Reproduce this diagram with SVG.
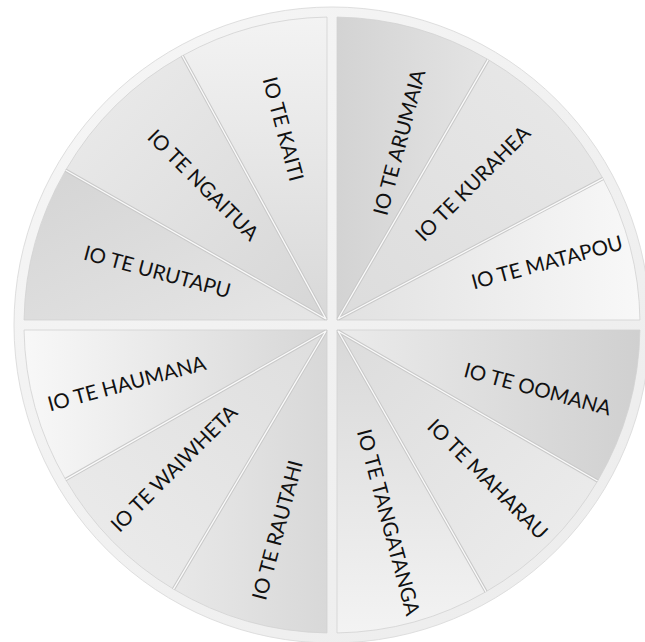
<svg xmlns="http://www.w3.org/2000/svg" width="645" height="642" viewBox="0 0 645 642">
<style>
.sec{stroke:#d2d2d2;stroke-width:0.8}
.lbl{font-family:Lato,"Liberation Sans",sans-serif;font-size:20.5px;fill:#111;text-anchor:middle}
.div1{stroke:#c9c9c9;stroke-width:3.4;fill:none}
.div2{stroke:#fafafa;stroke-width:1.3;fill:none}
</style>
<defs>
<linearGradient id="ring" x1="0" y1="0" x2="1" y2="1"><stop offset="0" stop-color="#f6f6f6"/><stop offset="1" stop-color="#ececec"/></linearGradient>
<linearGradient id="gKaiti" x1="0" y1="0" x2="0" y2="1"><stop offset="0" stop-color="#f3f3f3"/><stop offset="1" stop-color="#d8d8d8"/></linearGradient>
<linearGradient id="gNgaitua" x1="0" y1="0" x2="1" y2="1"><stop offset="0" stop-color="#ececec"/><stop offset="1" stop-color="#d6d6d6"/></linearGradient>
<linearGradient id="gUrutapu" x1="0" y1="0" x2="1" y2="1"><stop offset="0" stop-color="#d4d4d4"/><stop offset="1" stop-color="#e6e6e6"/></linearGradient>
<linearGradient id="gArumaia" x1="0" y1="0" x2="1" y2="0"><stop offset="0" stop-color="#d3d3d3"/><stop offset="1" stop-color="#e4e4e4"/></linearGradient>
<linearGradient id="gKurahea" x1="1" y1="0" x2="0" y2="1"><stop offset="0" stop-color="#e9e9e9"/><stop offset="1" stop-color="#dcdcdc"/></linearGradient>
<linearGradient id="gMatapou" x1="0" y1="0" x2="1" y2="0"><stop offset="0" stop-color="#e1e1e1"/><stop offset="1" stop-color="#f8f8f8"/></linearGradient>
<linearGradient id="gOomana" x1="0" y1="0" x2="1" y2="0"><stop offset="0" stop-color="#ebebeb"/><stop offset="1" stop-color="#d0d0d0"/></linearGradient>
<linearGradient id="gMaharau" x1="0" y1="0" x2="1" y2="1"><stop offset="0" stop-color="#dcdcdc"/><stop offset="1" stop-color="#eeeeee"/></linearGradient>
<linearGradient id="gTangatanga" x1="0" y1="0" x2="0" y2="1"><stop offset="0" stop-color="#d8d8d8"/><stop offset="1" stop-color="#f3f3f3"/></linearGradient>
<linearGradient id="gHaumana" x1="0" y1="0" x2="1" y2="0"><stop offset="0" stop-color="#f8f8f8"/><stop offset="1" stop-color="#d6d6d6"/></linearGradient>
<linearGradient id="gWaiwheta" x1="1" y1="0" x2="0" y2="1"><stop offset="0" stop-color="#dedede"/><stop offset="1" stop-color="#ececec"/></linearGradient>
<linearGradient id="gRautahi" x1="0" y1="0" x2="1" y2="0"><stop offset="0" stop-color="#e8e8e8"/><stop offset="1" stop-color="#d8d8d8"/></linearGradient>
</defs>
<rect width="645" height="642" fill="#ffffff"/>
<circle id="ring-bg" cx="332" cy="325" r="318" fill="url(#ring)" stroke="#dedede" stroke-width="1"/>

<g id="kaiti">
<path class="sec" fill="url(#gKaiti)" d="M327,320 L327,17.04 A308,308 0 0 0 182.3,55.8 Z"/>
<text class="lbl" transform="translate(283.3,129) rotate(75)" y="7.3">IO TE KAITI</text>
</g>
<g id="ngaitua">
<path class="sec" fill="url(#gNgaitua)" d="M327,320 L182.3,55.8 A308,308 0 0 0 65.7,170.2 Z"/>
<text class="lbl" transform="translate(203.3,185) rotate(45)" y="7.3">IO TE NGAITUA</text>
</g>
<g id="urutapu">
<path class="sec" fill="url(#gUrutapu)" d="M327,320 L65.7,170.2 A308,308 0 0 0 24.04,320 Z"/>
<text class="lbl" transform="translate(157.3,271.7) rotate(15)" y="7.3">IO TE URUTAPU</text>
</g>

<g id="arumaia">
<path class="sec" fill="url(#gArumaia)" d="M337,320 L337,17.04 A308,308 0 0 1 488.2,59.6 Z"/>
<text class="lbl" transform="translate(399.3,142.3) rotate(-75)" y="7.3">IO TE ARUMAIA</text>
</g>
<g id="kurahea">
<path class="sec" fill="url(#gKurahea)" d="M337,320 L488.2,59.6 A308,308 0 0 1 603,178.6 Z"/>
<text class="lbl" transform="translate(472.7,183.3) rotate(-45)" y="7.3">IO TE KURAHEA</text>
</g>
<g id="matapou">
<path class="sec" fill="url(#gMatapou)" d="M337,320 L603,178.6 A308,308 0 0 1 639.96,320 Z"/>
<text class="lbl" transform="translate(547,262.3) rotate(-15)" y="7.3">IO TE MATAPOU</text>
</g>

<g id="oomana">
<path class="sec" fill="url(#gOomana)" d="M337,330 L639.96,330 A308,308 0 0 1 597.6,481 Z"/>
<text class="lbl" transform="translate(537.7,389) rotate(15)" y="7.3">IO TE OOMANA</text>
</g>
<g id="maharau">
<path class="sec" fill="url(#gMaharau)" d="M337,330 L597.6,481 A308,308 0 0 1 486,591.7 Z"/>
<text class="lbl" transform="translate(487.7,479) rotate(45)" y="7.3">IO TE MAHARAU</text>
</g>
<g id="tangatanga">
<path class="sec" fill="url(#gTangatanga)" d="M337,330 L486,591.7 A308,308 0 0 1 337,632.96 Z"/>
<text class="lbl" transform="translate(388.7,522.3) rotate(75)" y="7.3">IO TE TANGATANGA</text>
</g>

<g id="rautahi">
<path class="sec" fill="url(#gRautahi)" d="M327,330 L327,632.96 A308,308 0 0 1 173.5,589.1 Z"/>
<text class="lbl" transform="translate(277.3,530) rotate(-75)" y="7.3">IO TE RAUTAHI</text>
</g>
<g id="waiwheta">
<path class="sec" fill="url(#gWaiwheta)" d="M327,330 L173.5,589.1 A308,308 0 0 1 65.6,479.6 Z"/>
<text class="lbl" transform="translate(174,468.3) rotate(-45)" y="7.3">IO TE WAIWHETA</text>
</g>
<g id="haumana">
<path class="sec" fill="url(#gHaumana)" d="M327,330 L65.6,479.6 A308,308 0 0 1 24.04,330 Z"/>
<text class="lbl" transform="translate(126.7,383.3) rotate(-15)" y="7.3">IO TE HAUMANA</text>
</g>

<g id="dividers">
<path class="div1" d="M326,319 L182.3,55.8 M326,319 L65.7,170.2 M338,319 L488.2,59.6 M338,319 L603,178.6 M338,331 L597.6,481 M338,331 L486,591.7 M326,331 L173.5,589.1 M326,331 L65.6,479.6"/>
<path class="div2" d="M326,319 L182.3,55.8 M326,319 L65.7,170.2 M338,319 L488.2,59.6 M338,319 L603,178.6 M338,331 L597.6,481 M338,331 L486,591.7 M326,331 L173.5,589.1 M326,331 L65.6,479.6"/>
</g>
</svg>
